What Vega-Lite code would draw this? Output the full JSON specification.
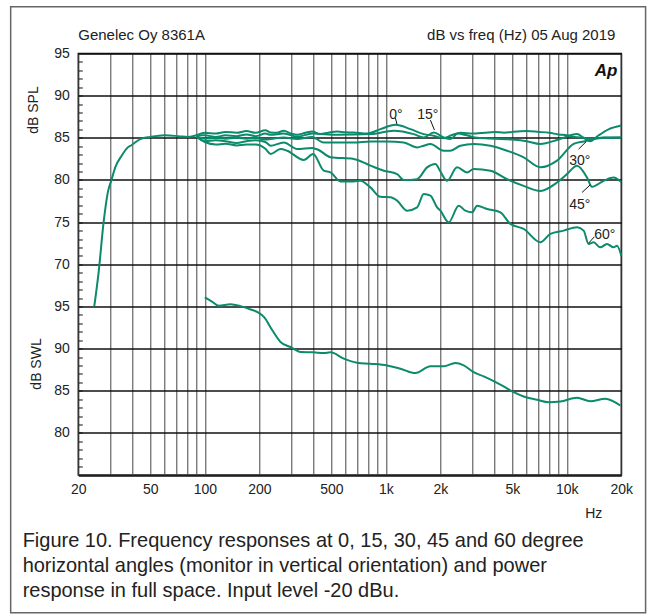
{
  "$schema": "https://vega.github.io/schema/vega-lite/v6.json",
  "width": 543,
  "height": 421.6,
  "autosize": {"type": "pad"},
  "padding": {"left": 9.3, "top": 5.5, "right": 0, "bottom": 0},
  "background": "white",
  "config": {
    "font": "Liberation Sans",
    "view": {"stroke": "#111", "strokeWidth": 1.5},
    "axis": {"labelFont": "Liberation Sans", "titleFont": "Liberation Sans", "labelColor": "#222", "titleColor": "#222", "labelFontSize": 14, "titleFontSize": 14, "titleFontWeight": "normal"}
  },
  "datasets": {
    "spl": [
      {"s": "lf", "f": 24.5, "db": 65.0}, {"s": "lf", "f": 25.9, "db": 69.05}, {"s": "lf", "f": 27.6, "db": 75.0}, {"s": "lf", "f": 29.1, "db": 78.5}, {"s": "lf", "f": 30.5, "db": 80.0}, {"s": "lf", "f": 32, "db": 81.5}, {"s": "lf", "f": 34.8, "db": 82.9}, {"s": "lf", "f": 37.1, "db": 83.75}, {"s": "lf", "f": 39.5, "db": 84.15}, {"s": "lf", "f": 44, "db": 84.85}, {"s": "lf", "f": 50, "db": 85.1}, {"s": "lf", "f": 60, "db": 85.3}, {"s": "lf", "f": 71.5, "db": 85.2}, {"s": "lf", "f": 81, "db": 85.1}, {"s": "lf", "f": 90, "db": 85.3},
      {"s": "0", "f": 90, "db": 85.3}, {"s": "0", "f": 100, "db": 85.6}, {"s": "0", "f": 115, "db": 85.5}, {"s": "0", "f": 130, "db": 85.7}, {"s": "0", "f": 150, "db": 85.6}, {"s": "0", "f": 170, "db": 85.8}, {"s": "0", "f": 191, "db": 85.6}, {"s": "0", "f": 216, "db": 85.9}, {"s": "0", "f": 231, "db": 85.63}, {"s": "0", "f": 250, "db": 85.6}, {"s": "0", "f": 273, "db": 85.84}, {"s": "0", "f": 300, "db": 85.5}, {"s": "0", "f": 324, "db": 85.36}, {"s": "0", "f": 360, "db": 85.6}, {"s": "0", "f": 392, "db": 85.75}, {"s": "0", "f": 435, "db": 85.44}, {"s": "0", "f": 480, "db": 85.6}, {"s": "0", "f": 539, "db": 85.75}, {"s": "0", "f": 600, "db": 85.65}, {"s": "0", "f": 665, "db": 85.63}, {"s": "0", "f": 789, "db": 85.51}, {"s": "0", "f": 934, "db": 86.03}, {"s": "0", "f": 1130, "db": 86.54}, {"s": "0", "f": 1368, "db": 86.03}, {"s": "0", "f": 1620, "db": 85.44}, {"s": "0", "f": 1840, "db": 85.24}, {"s": "0", "f": 2088, "db": 84.96}, {"s": "0", "f": 2300, "db": 85.3}, {"s": "0", "f": 2600, "db": 85.6}, {"s": "0", "f": 3000, "db": 85.5}, {"s": "0", "f": 3500, "db": 85.6}, {"s": "0", "f": 4000, "db": 85.7}, {"s": "0", "f": 4500, "db": 85.6}, {"s": "0", "f": 5000, "db": 85.7}, {"s": "0", "f": 6000, "db": 85.8}, {"s": "0", "f": 7000, "db": 85.7}, {"s": "0", "f": 8000, "db": 85.6}, {"s": "0", "f": 9000, "db": 85.4}, {"s": "0", "f": 10000, "db": 85.3}, {"s": "0", "f": 11000, "db": 85.1}, {"s": "0", "f": 12400, "db": 85.0}, {"s": "0", "f": 14000, "db": 84.9}, {"s": "0", "f": 16000, "db": 85.0}, {"s": "0", "f": 20000, "db": 85.05},
      {"s": "15", "f": 90, "db": 85.3}, {"s": "15", "f": 100, "db": 85.3}, {"s": "15", "f": 115, "db": 85.1}, {"s": "15", "f": 130, "db": 85.3}, {"s": "15", "f": 150, "db": 85.2}, {"s": "15", "f": 170, "db": 85.4}, {"s": "15", "f": 191, "db": 85.2}, {"s": "15", "f": 216, "db": 85.5}, {"s": "15", "f": 231, "db": 85.36}, {"s": "15", "f": 273, "db": 85.51}, {"s": "15", "f": 324, "db": 85.12}, {"s": "15", "f": 392, "db": 85.51}, {"s": "15", "f": 539, "db": 85.36}, {"s": "15", "f": 822, "db": 85.44}, {"s": "15", "f": 1106, "db": 85.84}, {"s": "15", "f": 1426, "db": 85.44}, {"s": "15", "f": 1620, "db": 85.05}, {"s": "15", "f": 1840, "db": 85.63}, {"s": "15", "f": 2088, "db": 85.05}, {"s": "15", "f": 2274, "db": 84.85}, {"s": "15", "f": 2500, "db": 85.5}, {"s": "15", "f": 2800, "db": 85.3}, {"s": "15", "f": 3200, "db": 85.0}, {"s": "15", "f": 4000, "db": 84.9}, {"s": "15", "f": 5000, "db": 84.8}, {"s": "15", "f": 6000, "db": 84.6}, {"s": "15", "f": 7142, "db": 84.27}, {"s": "15", "f": 9000, "db": 84.8}, {"s": "15", "f": 11387, "db": 85.45}, {"s": "15", "f": 12400, "db": 85.0}, {"s": "15", "f": 13488, "db": 84.6}, {"s": "15", "f": 15000, "db": 85.3}, {"s": "15", "f": 17000, "db": 86.0}, {"s": "15", "f": 20000, "db": 86.45},
      {"s": "30", "f": 90, "db": 85.2}, {"s": "30", "f": 100, "db": 84.9}, {"s": "30", "f": 115, "db": 85.0}, {"s": "30", "f": 130, "db": 84.9}, {"s": "30", "f": 150, "db": 85.0}, {"s": "30", "f": 170, "db": 84.9}, {"s": "30", "f": 191, "db": 85.0}, {"s": "30", "f": 216, "db": 84.8}, {"s": "30", "f": 231, "db": 84.86}, {"s": "30", "f": 273, "db": 85.05}, {"s": "30", "f": 324, "db": 84.86}, {"s": "30", "f": 392, "db": 85.1}, {"s": "30", "f": 454, "db": 84.45}, {"s": "30", "f": 665, "db": 84.45}, {"s": "30", "f": 822, "db": 84.57}, {"s": "30", "f": 1017, "db": 84.57}, {"s": "30", "f": 1256, "db": 84.45}, {"s": "30", "f": 1489, "db": 83.86}, {"s": "30", "f": 1620, "db": 84.06}, {"s": "30", "f": 1764, "db": 84.27}, {"s": "30", "f": 2088, "db": 83.47}, {"s": "30", "f": 2274, "db": 83.47}, {"s": "30", "f": 2581, "db": 84.06}, {"s": "30", "f": 3058, "db": 84.27}, {"s": "30", "f": 3782, "db": 84.06}, {"s": "30", "f": 4676, "db": 83.47}, {"s": "30", "f": 5776, "db": 82.68}, {"s": "30", "f": 7142, "db": 81.5}, {"s": "30", "f": 8831, "db": 82.29}, {"s": "30", "f": 10908, "db": 84.27}, {"s": "30", "f": 12388, "db": 84.57}, {"s": "30", "f": 14060, "db": 84.86}, {"s": "30", "f": 15974, "db": 85.05}, {"s": "30", "f": 20000, "db": 85.05},
      {"s": "45", "f": 90, "db": 85.2}, {"s": "45", "f": 100, "db": 84.6}, {"s": "45", "f": 115, "db": 84.7}, {"s": "45", "f": 130, "db": 84.6}, {"s": "45", "f": 150, "db": 84.4}, {"s": "45", "f": 170, "db": 84.6}, {"s": "45", "f": 191, "db": 84.7}, {"s": "45", "f": 216, "db": 84.5}, {"s": "45", "f": 231, "db": 84.06}, {"s": "45", "f": 273, "db": 84.45}, {"s": "45", "f": 324, "db": 83.67}, {"s": "45", "f": 392, "db": 83.8}, {"s": "45", "f": 426, "db": 83.55}, {"s": "45", "f": 495, "db": 82.7}, {"s": "45", "f": 665, "db": 82.5}, {"s": "45", "f": 822, "db": 81.7}, {"s": "45", "f": 974, "db": 81.1}, {"s": "45", "f": 1154, "db": 80.7}, {"s": "45", "f": 1256, "db": 80.0}, {"s": "45", "f": 1489, "db": 80.1}, {"s": "45", "f": 1691, "db": 81.5}, {"s": "45", "f": 1880, "db": 81.9}, {"s": "45", "f": 2003, "db": 81.0}, {"s": "45", "f": 2180, "db": 79.9}, {"s": "45", "f": 2476, "db": 81.5}, {"s": "45", "f": 2812, "db": 80.9}, {"s": "45", "f": 3058, "db": 81.3}, {"s": "45", "f": 3782, "db": 81.1}, {"s": "45", "f": 4676, "db": 80.1}, {"s": "45", "f": 5776, "db": 79.3}, {"s": "45", "f": 7142, "db": 78.7}, {"s": "45", "f": 8831, "db": 79.7}, {"s": "45", "f": 10028, "db": 80.7}, {"s": "45", "f": 11387, "db": 81.7}, {"s": "45", "f": 12932, "db": 80.3}, {"s": "45", "f": 13778, "db": 79.2}, {"s": "45", "f": 15974, "db": 79.9}, {"s": "45", "f": 18140, "db": 80.3}, {"s": "45", "f": 20000, "db": 79.75},
      {"s": "60", "f": 90, "db": 85.1}, {"s": "60", "f": 100, "db": 84.5}, {"s": "60", "f": 115, "db": 84.2}, {"s": "60", "f": 130, "db": 84.3}, {"s": "60", "f": 150, "db": 84.1}, {"s": "60", "f": 170, "db": 84.2}, {"s": "60", "f": 191, "db": 84.2}, {"s": "60", "f": 216, "db": 83.7}, {"s": "60", "f": 231, "db": 83.08}, {"s": "60", "f": 262, "db": 83.67}, {"s": "60", "f": 285, "db": 83.47}, {"s": "60", "f": 352, "db": 82.37}, {"s": "60", "f": 397, "db": 83.08}, {"s": "60", "f": 454, "db": 81.1}, {"s": "60", "f": 495, "db": 80.9}, {"s": "60", "f": 561, "db": 79.83}, {"s": "60", "f": 665, "db": 79.83}, {"s": "60", "f": 724, "db": 79.92}, {"s": "60", "f": 822, "db": 79.12}, {"s": "60", "f": 934, "db": 78.0}, {"s": "60", "f": 1060, "db": 77.94}, {"s": "60", "f": 1154, "db": 77.55}, {"s": "60", "f": 1312, "db": 76.36}, {"s": "60", "f": 1489, "db": 76.75}, {"s": "60", "f": 1620, "db": 78.34}, {"s": "60", "f": 1764, "db": 78.14}, {"s": "60", "f": 1920, "db": 76.75}, {"s": "60", "f": 2003, "db": 76.36}, {"s": "60", "f": 2226, "db": 74.98}, {"s": "60", "f": 2527, "db": 76.95}, {"s": "60", "f": 2752, "db": 76.36}, {"s": "60", "f": 2997, "db": 76.16}, {"s": "60", "f": 3193, "db": 76.95}, {"s": "60", "f": 3626, "db": 76.56}, {"s": "60", "f": 4295, "db": 76.16}, {"s": "60", "f": 4876, "db": 74.79}, {"s": "60", "f": 5776, "db": 74.2}, {"s": "60", "f": 7142, "db": 72.61}, {"s": "60", "f": 8110, "db": 73.6}, {"s": "60", "f": 9604, "db": 73.99}, {"s": "60", "f": 11387, "db": 74.38}, {"s": "60", "f": 12388, "db": 73.99}, {"s": "60", "f": 13198, "db": 72.42}, {"s": "60", "f": 14060, "db": 72.61}, {"s": "60", "f": 15311, "db": 72.01}, {"s": "60", "f": 16674, "db": 72.42}, {"s": "60", "f": 18140, "db": 72.01}, {"s": "60", "f": 18940, "db": 72.2}, {"s": "60", "f": 20000, "db": 71.03}
    ],
    "swl": [
      {"f": 100, "db": 96.07}, {"f": 110, "db": 95.55}, {"f": 119.5, "db": 95.07}, {"f": 138.7, "db": 95.27}, {"f": 157.5, "db": 95.04}, {"f": 179, "db": 94.64}, {"f": 199, "db": 94.24}, {"f": 212, "db": 93.76}, {"f": 236, "db": 92.18}, {"f": 262, "db": 90.79}, {"f": 297, "db": 90.19}, {"f": 338, "db": 89.6}, {"f": 400, "db": 89.56}, {"f": 454, "db": 89.48}, {"f": 495, "db": 89.56}, {"f": 586, "db": 88.81}, {"f": 694, "db": 88.33}, {"f": 822, "db": 88.21}, {"f": 1017, "db": 88.01}, {"f": 1204, "db": 87.62}, {"f": 1458, "db": 87.1}, {"f": 1764, "db": 87.9}, {"f": 2088, "db": 87.9}, {"f": 2422, "db": 88.29}, {"f": 2694, "db": 88.01}, {"f": 3058, "db": 87.2}, {"f": 3474, "db": 86.7}, {"f": 3944, "db": 86.14}, {"f": 4478, "db": 85.51}, {"f": 5087, "db": 84.83}, {"f": 5776, "db": 84.32}, {"f": 6848, "db": 83.93}, {"f": 7938, "db": 83.64}, {"f": 9208, "db": 83.73}, {"f": 11387, "db": 84.17}, {"f": 13488, "db": 83.76}, {"f": 16328, "db": 84.05}, {"f": 19748, "db": 83.25}
    ],
    "angleLabels": [
      {"label": "0°", "f": 1137, "db": 87.25},
      {"label": "15°", "f": 1708, "db": 87.25},
      {"label": "30°", "f": 11798, "db": 81.8},
      {"label": "45°", "f": 11798, "db": 76.58},
      {"label": "60°", "f": 16218, "db": 73.02}
    ],
    "leaders": [
      {"f": 1130, "f2": 1152, "db": 87.34, "db2": 86.63},
      {"f": 1764, "f2": 1856, "db": 87.1, "db2": 85.92},
      {"f": 11620, "f2": 12766, "db": 83.66, "db2": 84.53},
      {"f": 12134, "f2": 13488, "db": 78.52, "db2": 79.43},
      {"f": 13198, "f2": 14192, "db": 72.51, "db2": 73.26}
    ],
    "headLeft": [{"label": "Genelec Oy 8361A", "f": 20, "db": 96.62}],
    "headRight": [{"label": "dB vs freq (Hz) 05 Aug 2019", "f": 18534, "db": 96.62}],
    "logo": [{"label": "Ap", "f": 19012, "db": 92.36}]
  },
  "resolve": {"scale": {"y": "independent"}},
  "layer": [
    {
      "data": {"name": "spl"},
      "mark": {"type": "line", "color": "#0b8a6c", "strokeWidth": 2, "interpolate": "monotone"},
      "encoding": {
        "x": {"field": "f", "type": "quantitative", "scale": {"type": "log", "domain": [20, 20000], "nice": false},
          "axis": {
            "values": [20, 30, 40, 50, 60, 70, 80, 90, 100, 200, 300, 400, 500, 600, 700, 800, 900, 1000, 2000, 3000, 4000, 5000, 6000, 7000, 8000, 9000, 10000, 20000],
            "labelExpr": "(datum.value == 20 || datum.value == 50 || datum.value == 100 || datum.value == 200 || datum.value == 500) ? '' + datum.value : ((datum.value == 1000 || datum.value == 2000 || datum.value == 5000 || datum.value == 10000 || datum.value == 20000) ? (datum.value / 1000) + 'k' : '')",
            "grid": true, "gridColor": "#444", "gridWidth": 1, "gridOpacity": 1,
            "ticks": false, "domain": false, "labelPadding": 7, "labelFlush": false, "labelOverlap": false, "labelBound": false,
            "title": "Hz", "titleX": 515, "titleY": 42, "titleAlign": "center", "titleBaseline": "alphabetic"
          }
        },
        "y": {"field": "db", "type": "quantitative", "scale": {"domain": [45, 95], "nice": false, "zero": false},
          "axis": {
            "orient": "left",
            "values": [45, 50, 55, 60, 65, 70, 75, 80, 85, 90, 95],
            "labelExpr": "datum.value >= 70 ? '' + datum.value : (datum.value > 45 ? '' + (datum.value + 30) : '')",
            "grid": true, "gridColor": "#111", "gridWidth": 1.5, "gridOpacity": 1,
            "ticks": false, "domain": false, "labelPadding": 9,
            "title": "dB SPL", "titleX": -45, "titleY": 56, "titleAngle": 270, "titleBaseline": "middle", "titleAlign": "center"
          }
        },
        "detail": {"field": "s"}
      }
    },
    {
      "data": {"name": "leaders"},
      "mark": {"type": "rule", "color": "#111", "strokeWidth": 1},
      "encoding": {
        "x": {"field": "f", "type": "quantitative"},
        "x2": {"field": "f2"},
        "y": {"field": "db", "type": "quantitative", "scale": {"domain": [45, 95], "nice": false, "zero": false}, "axis": null},
        "y2": {"field": "db2"}
      }
    },
    {
      "data": {"name": "angleLabels"},
      "mark": {"type": "text", "align": "center", "baseline": "alphabetic", "fontSize": 14, "color": "#222"},
      "encoding": {
        "x": {"field": "f", "type": "quantitative"},
        "y": {"field": "db", "type": "quantitative", "scale": {"domain": [45, 95], "nice": false, "zero": false}, "axis": null},
        "text": {"field": "label"}
      }
    },
    {
      "data": {"name": "headLeft"},
      "mark": {"type": "text", "align": "left", "baseline": "alphabetic", "fontSize": 15, "color": "#222"},
      "encoding": {
        "x": {"field": "f", "type": "quantitative"},
        "y": {"field": "db", "type": "quantitative", "scale": {"domain": [45, 95], "nice": false, "zero": false}, "axis": null},
        "text": {"field": "label"}
      }
    },
    {
      "data": {"name": "headRight"},
      "mark": {"type": "text", "align": "right", "baseline": "alphabetic", "fontSize": 15, "color": "#222"},
      "encoding": {
        "x": {"field": "f", "type": "quantitative"},
        "y": {"field": "db", "type": "quantitative", "scale": {"domain": [45, 95], "nice": false, "zero": false}, "axis": null},
        "text": {"field": "label"}
      }
    },
    {
      "data": {"name": "logo"},
      "mark": {"type": "text", "align": "right", "baseline": "alphabetic", "fontSize": 17, "fontStyle": "italic", "fontWeight": "bold", "color": "#111"},
      "encoding": {
        "x": {"field": "f", "type": "quantitative"},
        "y": {"field": "db", "type": "quantitative", "scale": {"domain": [45, 95], "nice": false, "zero": false}, "axis": null},
        "text": {"field": "label"}
      }
    },
    {
      "data": {"values": [{"n": 1}]},
      "mark": {"type": "rect", "fill": null, "fillOpacity": 0, "stroke": "#666", "strokeWidth": 1.5},
      "encoding": {
        "x": {"datum": 8.46, "type": "quantitative"},
        "x2": {"datum": 27240},
        "y": {"datum": 100.55, "type": "quantitative", "scale": {"domain": [45, 95], "nice": false, "zero": false}, "axis": null},
        "y2": {"datum": 28.67}
      }
    },
    {
      "data": {"values": [{"n": 1}]},
      "mark": {"type": "text", "align": "left", "baseline": "alphabetic", "fontSize": 20, "lineHeight": 25, "color": "#222",
        "text": ["Figure 10. Frequency responses at 0, 15, 30, 45 and 60 degree", "horizontal angles (monitor in vertical orientation) and power", "response in full space. Input level -20 dBu."]},
      "encoding": {
        "x": {"datum": 9.85, "type": "quantitative"},
        "y": {"datum": 36.44, "type": "quantitative", "scale": {"domain": [45, 95], "nice": false, "zero": false}, "axis": null}
      }
    },
    {
      "data": {"name": "swl"},
      "mark": {"type": "line", "color": "#0b8a6c", "strokeWidth": 2, "interpolate": "monotone"},
      "encoding": {
        "x": {"field": "f", "type": "quantitative"},
        "y": {"field": "db", "type": "quantitative", "scale": {"domain": [75, 125], "nice": false, "zero": false},
          "axis": {
            "orient": "left",
            "offset": -4,
            "values": [76,77,78,79,80,81,82,83,84,85,86,87,88,89,90,91,92,93,94,95,96,97,98,99,100,101,102,103,104,105,106,107,108,109,110,111,112,113,114,115,116,117,118,119,120,121,122,123,124],
            "ticks": true, "tickSize": 4, "tickColor": "#111", "tickWidth": 1,
            "labels": false, "grid": false, "domain": false,
            "title": "dB SWL", "titleX": -46, "titleY": 310, "titleAngle": 270, "titleBaseline": "middle", "titleAlign": "center"
          }
        }
      }
    }
  ]
}
